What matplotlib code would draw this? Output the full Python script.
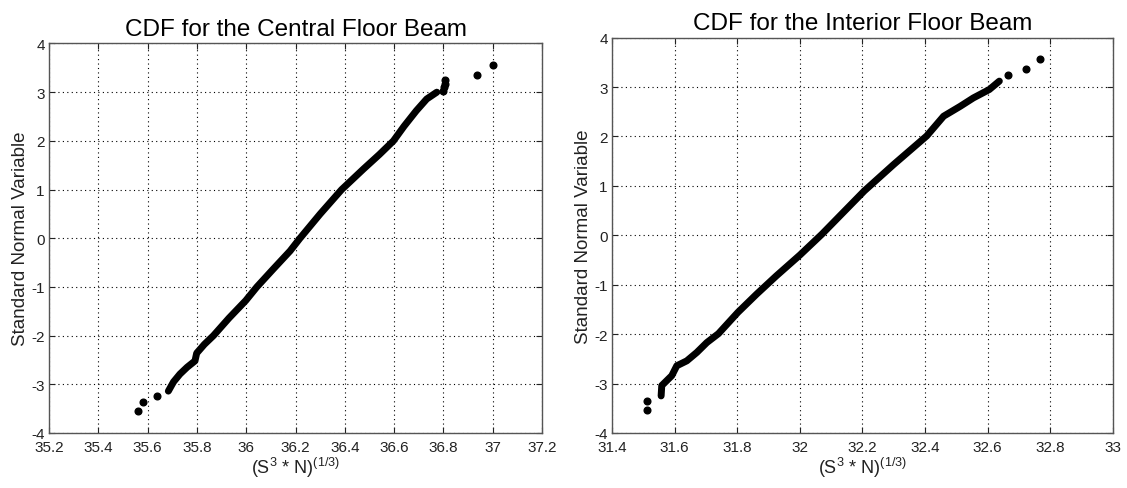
import matplotlib
matplotlib.use("Agg")
import matplotlib.pyplot as plt
import numpy as np

plt.rcParams["font.family"] = ["Liberation Sans", "DejaVu Sans"]
plt.rcParams["mathtext.default"] = "regular"
plt.rcParams["axes.unicode_minus"] = False

# Central floor beam: body of the probability plot
central_x = [35.684, 35.705, 35.731, 35.760, 35.792, 35.799, 35.830, 35.867, 35.930,
             35.998, 36.043, 36.110, 36.178, 36.218, 36.300, 36.387, 36.475, 36.540,
             36.597, 36.640, 36.690, 36.732, 36.773]
central_z = [-3.14, -2.95, -2.79, -2.65, -2.52, -2.36, -2.18, -2.00, -1.64,
             -1.28, -1.00, -0.63, -0.26, 0.00, 0.50, 1.00, 1.42, 1.72,
             2.00, 2.30, 2.62, 2.86, 3.00]
# isolated points in the tails
central_tail_x = [35.562, 35.583, 35.637, 36.800, 36.802, 36.805, 36.808, 36.934, 37.002]
central_tail_z = [-3.55, -3.36, -3.24, 3.03, 3.10, 3.17, 3.25, 3.36, 3.56]

# Interior floor beam
interior_x = [31.557, 31.559, 31.575, 31.591, 31.607, 31.639, 31.671, 31.703, 31.740,
              31.802, 31.862, 31.925, 32.000, 32.070, 32.206, 32.299, 32.405, 32.459,
              32.512, 32.554, 32.605, 32.637]
interior_z = [-3.25, -3.04, -2.94, -2.84, -2.64, -2.54, -2.37, -2.17, -1.99,
              -1.56, -1.19, -0.82, -0.40, 0.02, 0.90, 1.43, 2.01, 2.41,
              2.61, 2.78, 2.95, 3.12]
interior_tail_x = [31.511, 31.513, 32.665, 32.721, 32.768]
interior_tail_z = [-3.54, -3.36, 3.24, 3.36, 3.56]

panels = [
    ("CDF for the Central Floor Beam", central_x, central_z, central_tail_x, central_tail_z,
     np.arange(35.2, 37.21, 0.2), (35.2, 37.2), [0.0435, 0.1125, 0.4375, 0.7965]),
    ("CDF for the Interior Floor Beam", interior_x, interior_z, interior_tail_x, interior_tail_z,
     np.arange(31.4, 33.01, 0.2), (31.4, 33.0), [0.543, 0.1125, 0.4446, 0.8085]),
]

fig = plt.figure(figsize=(11.27, 4.89), dpi=100)

for title, xs, zs, tx, tz, xticks, xlim, rect in panels:
    ax = fig.add_axes(rect)
    ax.plot(xs, zs, color="black", lw=5, solid_capstyle="round", solid_joinstyle="round")
    ax.plot(tx, tz, "o", color="black", ms=4.8, mec="black")
    ax.set_xlim(*xlim)
    ax.set_ylim(-4, 4)
    ax.set_xticks(xticks)
    ax.set_xticklabels([f"{v:g}" for v in np.round(xticks, 1)])
    ax.set_yticks(range(-4, 5))
    ax.grid(True, color="black", linestyle=(0, (1, 3)), linewidth=0.8)
    ax.tick_params(direction="in", top=True, right=True, length=4, labelsize=11,
                   colors="#222222")
    ax.tick_params(axis="x", pad=5)
    ax.tick_params(axis="y", pad=3)
    for s in ax.spines.values():
        s.set_color("#555555")
        s.set_linewidth(1.0)
    ax.set_title(title, fontsize=17.5, pad=6)
    ax.set_xlabel(r"(S$^3$ * N)$^{(1/3)}$", fontsize=13, color="#222222", labelpad=1)
    ax.set_ylabel("Standard Normal Variable", fontsize=13.5, color="#222222", labelpad=2)

fig.savefig("out.png", dpi=100)
